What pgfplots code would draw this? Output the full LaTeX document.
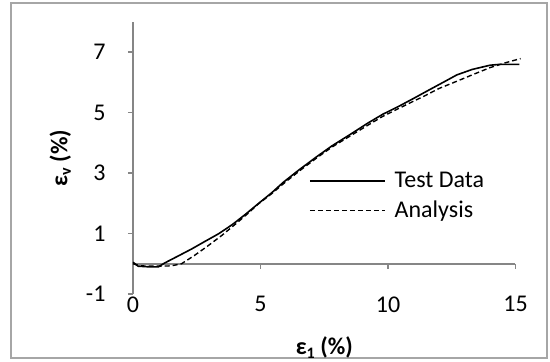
\documentclass[border=0pt]{standalone}
\usepackage{pgfplots}
\pgfplotsset{compat=1.18}
\usepackage{fontspec}
\setmainfont{Carlito}
\definecolor{axisgray}{HTML}{868686}
\definecolor{framegray}{HTML}{A6A6A6}
\newcommand{\epsch}{\char"03B5\relax}
\newcommand{\sub}[1]{\raisebox{-0.3ex}{\fontsize{16}{16}\selectfont #1}}
\begin{document}
\begin{tikzpicture}[x=1pt,y=1pt]
\useasboundingbox (0,0) rectangle (550,362);
\draw[framegray, line width=2pt] (11,4) rectangle (547,359);
\begin{axis}[
  at={(133pt,68pt)}, anchor=south west,
  scale only axis, width=382.5pt, height=272pt,
  xmin=0, xmax=15, ymin=-1, ymax=8,
  clip=false,
  axis x line*=bottom, axis y line*=left,
  x axis line style={draw=none},
  y axis line style={draw=axisgray, line width=2.5pt},
  xtick={0,5,10,15}, ytick={-1,1,3,5,7},
  major x tick style={draw=none},
  major y tick style={draw=axisgray, line width=1.5pt},
  tick align=outside, major tick length=5pt,
  font=\fontsize{24}{28}\selectfont,
  /pgf/number format/assume math mode=true,
  xticklabel style={yshift=6pt},
  yticklabel style={xshift=-19pt},
  xlabel={\bfseries\epsch\sub{1} (\%)},
  ylabel={\bfseries\epsch\sub{v} (\%)},
  xlabel style={yshift=-18pt},
  ylabel style={yshift=8pt},
  legend style={draw=none, fill=none, at={(axis cs:6.9,3.1)}, anchor=north west,
    inner sep=0pt, row sep=8pt, column sep=7pt, font=\fontsize{24}{28}\selectfont},
  legend cell align=left,
  legend image code/.code={\draw[#1] (0pt,0pt) -- (75pt,0pt);},
]
\draw[axisgray, line width=2.5pt] (axis cs:0,0) -- (axis cs:15,0);
\draw[axisgray, line width=1.5pt] (axis cs:5,0) -- ++(0pt,-5pt);
\draw[axisgray, line width=1.5pt] (axis cs:10,0) -- ++(0pt,-5pt);
\draw[axisgray, line width=1.5pt] (axis cs:15,0) -- ++(0pt,-5pt);
\addplot[black, line width=1.6pt] coordinates {
(0,0.05)(0.2,-0.08)(0.6,-0.1)(1.0,-0.1)(1.25,0.03)(1.8,0.27)(2.3,0.49)(2.8,0.73)
(3.35,0.99)(3.9,1.3)(4.4,1.63)(4.9,1.98)(5.44,2.35)(5.9,2.7)(6.5,3.1)(7.2,3.54)
(7.8,3.9)(8.5,4.27)(9.2,4.65)(9.8,4.95)(10.4,5.2)(11.0,5.47)(11.65,5.77)(12.2,6.02)
(12.7,6.25)(13.3,6.43)(14.0,6.57)(14.4,6.6)(15.15,6.6)};
\addlegendentry{Test Data}
\addplot[black, line width=1.4pt, dash pattern=on 5pt off 3pt] coordinates {
(0,0.0)(0.3,-0.07)(1.0,-0.08)(1.5,-0.07)(1.9,0.0)(2.4,0.27)(2.95,0.6)(3.5,0.95)
(4.0,1.3)(4.5,1.66)(4.9,1.97)(5.44,2.32)(6.0,2.72)(6.6,3.12)(7.2,3.5)(7.8,3.86)
(8.5,4.22)(9.2,4.58)(9.8,4.88)(10.4,5.13)(11.0,5.38)(11.4,5.54)(12.0,5.8)(12.7,6.04)
(13.3,6.25)(14.0,6.49)(14.6,6.65)(15.2,6.79)};
\addlegendentry{Analysis}
\end{axis}
\end{tikzpicture}
\end{document}
